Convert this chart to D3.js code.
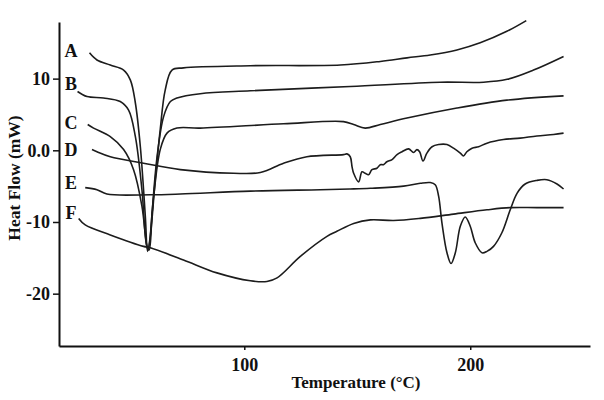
<!DOCTYPE html>
<html>
<head>
<meta charset="utf-8">
<script src="https://cdn.jsdelivr.net/npm/d3@7"></script>
<style>
  body { margin: 0; background: #fff; }
  text { font-family: "Liberation Serif", "Times New Roman", serif; font-weight: bold; fill: #111; }
</style>
</head>
<body>
<svg id="chart" width="604" height="400"></svg>
<script>
// DSC traces, temperature (°C) vs heat flow (mW)
var tempA = [31.5, 34.8, 40.7, 46.6, 49.6, 51.8, 54.0, 56.2, 57.2, 58.4, 60.6, 62.8, 65.0, 68.0, 73.1, 102.7, 142.5, 160.2, 172.0, 182.3, 194.1, 204.4, 216.2, 224.8];
var flowA = [13.6, 12.6, 11.9, 11.2, 9.8, 6.6, 0.5, -9.2, -14.1, -12.0, -4.1, 2.9, 8.4, 11.2, 11.5, 11.8, 11.9, 12.4, 12.9, 13.3, 14.0, 15.0, 16.6, 18.1];

var tempB = [26.2, 30.4, 37.7, 45.1, 48.8, 51.8, 54.7, 56.9, 57.9, 59.2, 61.4, 64.3, 67.3, 70.2, 80.5, 102.7, 146.9, 186.7, 205.9, 216.3, 228.0, 241.3];
var flowB = [8.2, 7.5, 7.3, 6.8, 5.6, 1.9, -5.5, -13.4, -13.9, -8.7, -0.9, 4.7, 6.8, 7.3, 7.9, 8.3, 8.9, 9.5, 9.5, 9.9, 11.2, 13.1];

var tempC = [30.7, 33.3, 40.7, 46.6, 51.0, 54.7, 56.9, 57.5, 59.9, 62.8, 65.8, 70.2, 80.5, 117.4, 143.9, 148.4, 153.5, 160.2, 172.0, 194.1, 216.2, 241.3];
var flowC = [3.6, 3.1, 1.9, 0.1, -2.7, -7.8, -13.4, -13.9, -6.4, 0.1, 2.4, 3.1, 3.1, 3.7, 4.0, 3.6, 3.1, 3.6, 4.5, 5.9, 7.0, 7.6];

var tempD = [32.6, 34.8, 40.7, 55.4, 71.7, 95.3, 107.1, 117.4, 127.7, 143.9, 145.4, 146.9, 147.7, 148.4, 150.6, 152.1, 153.5, 155.0, 156.5, 158.7, 160.2, 161.6, 163.1, 165.4, 167.6, 169.8, 172.7, 174.9, 176.4, 177.6, 179.1, 180.8, 183.1, 186.0, 189.7, 192.6, 195.6, 197.0, 198.5, 200.8, 203.7, 207.4, 214.7, 222.1, 229.5, 236.9, 241.3];
var flowD = [0.1, -0.2, -0.9, -1.8, -2.7, -3.2, -3.1, -1.8, -0.9, -0.6, -0.5, -0.9, -2.3, -3.2, -4.4, -3.0, -3.2, -3.4, -2.7, -2.5, -2.0, -2.0, -1.6, -1.3, -0.6, -0.2, 0.2, -0.3, 0.1, -0.2, -1.5, -0.4, 0.5, 0.8, 0.8, 0.3, -0.4, -0.8, -0.2, 0.3, 0.5, 1.0, 1.5, 1.7, 2.0, 2.2, 2.4];

var tempE = [29.6, 34.8, 39.2, 58.4, 71.7, 102.7, 133.6, 146.9, 155.8, 170.5, 177.9, 182.3, 184.5, 186.0, 187.5, 189.7, 191.5, 193.4, 195.6, 197.8, 200.0, 202.2, 205.2, 207.4, 210.3, 214.0, 217.7, 220.7, 224.3, 229.5, 233.9, 238.4, 241.3];
var flowE = [-5.2, -5.5, -6.1, -6.2, -6.1, -5.7, -5.5, -5.4, -5.3, -5.0, -4.6, -4.5, -4.8, -6.4, -10.2, -14.3, -15.8, -14.3, -10.6, -9.3, -10.6, -12.9, -14.3, -14.1, -13.4, -11.5, -8.3, -6.0, -4.7, -4.2, -4.1, -4.7, -5.4];

var tempF = [26.7, 29.6, 40.7, 55.4, 58.4, 73.1, 87.9, 102.7, 110.0, 114.5, 124.8, 136.6, 141.0, 148.4, 155.8, 166.1, 177.9, 192.6, 207.4, 217.7, 229.5, 241.3];
var flowF = [-9.5, -10.4, -11.8, -13.4, -13.6, -15.3, -17.1, -18.2, -18.3, -17.8, -14.8, -12.0, -11.3, -10.2, -9.7, -9.8, -9.5, -8.9, -8.3, -8.0, -8.0, -8.0];

var seriesNames = ["A", "B", "C", "D", "E", "F"];
// heat flow level where each letter sits, left of the traces
var labelFlow = [13.8, 9.2, 3.8, 0.0, -4.6, -8.8];
var xTicks = [100, 200];
var yTicks = [10, 0, -10, -20];

var series = [
    { t: tempA, v: flowA },
    { t: tempB, v: flowB },
    { t: tempC, v: flowC },
    { t: tempD, v: flowD },
    { t: tempE, v: flowE },
    { t: tempF, v: flowF }
];
series.forEach(function (s, i) {
    s.name = seriesNames[i];
    s.lv = labelFlow[i];
});

var svg = d3.select("#chart");

var x = d3.scaleLinear().domain([18, 253]).range([59, 590]);
var y = d3.scaleLinear().domain([-27.3, 17.9]).range([346, 22]);

var line = d3.line()
    .x(function (d) { return x(d[0]); })
    .y(function (d) { return y(d[1]); })
    .curve(d3.curveCatmullRom.alpha(0.5));

svg.selectAll("path.trace")
    .data(series)
    .enter().append("path")
    .attr("class", "trace")
    .attr("d", function (s) { return line(d3.zip(s.t, s.v)); })
    .attr("fill", "none")
    .attr("stroke", "#1c1c1c")
    .attr("stroke-width", 1.6)
    .attr("stroke-linejoin", "round");

// series letters
svg.selectAll("text.lbl")
    .data(series)
    .enter().append("text")
    .attr("class", "lbl")
    .attr("x", 71)
    .attr("y", function (s) { return y(s.lv) + 6; })
    .attr("text-anchor", "middle")
    .style("font-size", "18px")
    .text(function (s) { return s.name; });

// axes
var xAxis = svg.append("g")
    .attr("transform", "translate(0,346)")
    .call(d3.axisBottom(x).tickValues(xTicks).tickSize(4).tickSizeOuter(0).tickPadding(8));
var yAxis = svg.append("g")
    .attr("transform", "translate(59,0)")
    .call(d3.axisLeft(y).tickValues(yTicks).tickSize(6).tickSizeOuter(0).tickPadding(3)
        .tickFormat(function (d) { return d === 0 ? "0.0" : d; }));

[xAxis, yAxis].forEach(function (g) {
    g.select(".domain").attr("stroke", "#111").attr("stroke-width", 2);
    g.selectAll(".tick line").attr("stroke", "#111").attr("stroke-width", 1.5);
    g.selectAll(".tick text")
        .style("font-family", "'Liberation Serif', serif")
        .style("font-weight", "bold")
        .style("font-size", "18px")
        .attr("fill", "#111");
});

svg.append("text")
    .attr("x", 356)
    .attr("y", 388)
    .attr("text-anchor", "middle")
    .style("font-size", "17px")
    .text("Temperature (°C)");

svg.append("text")
    .attr("transform", "translate(20,178) rotate(-90)")
    .attr("text-anchor", "middle")
    .style("font-size", "17.5px")
    .text("Heat Flow (mW)");
</script>
</body>
</html>
